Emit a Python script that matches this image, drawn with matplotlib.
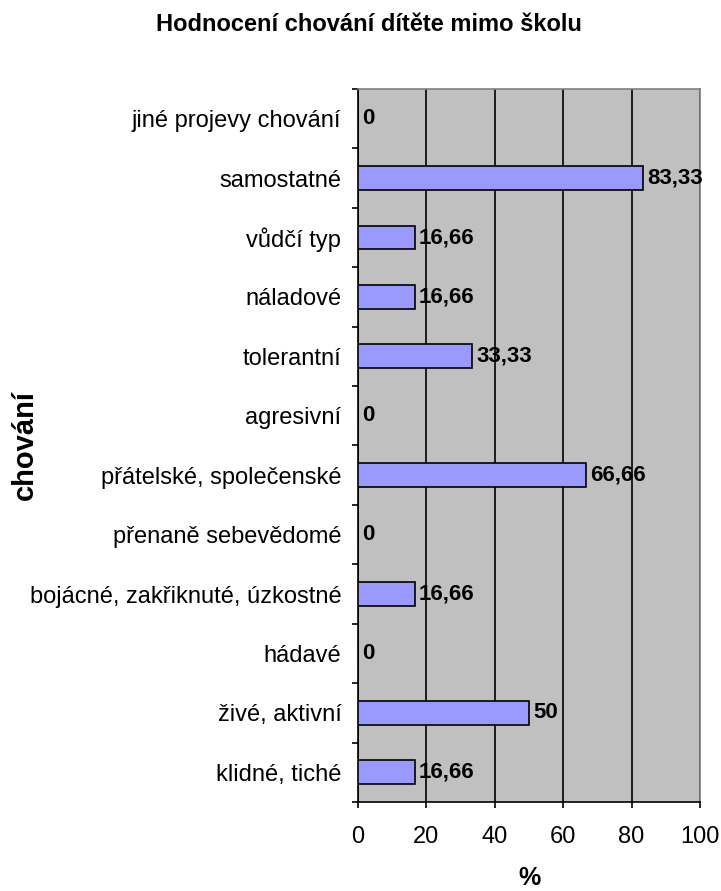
import numpy as np
import matplotlib.pyplot as plt

plt.rcParams['font.family'] = ['Liberation Sans', 'DejaVu Sans']

# categories listed bottom to top
categories = [
    "klidné, tiché",
    "živé, aktivní",
    "hádavé",
    "bojácné, zakřiknuté, úzkostné",
    "přenaně sebevědomé",
    "přátelské, společenské",
    "agresivní",
    "tolerantní",
    "náladové",
    "vůdčí typ",
    "samostatné",
    "jiné projevy chování",
]
values = [16.66, 50, 0, 16.66, 0, 66.66, 0, 33.33, 16.66, 16.66, 83.33, 0]
value_labels = ["16,66", "50", "0", "16,66", "0", "66,66", "0", "33,33",
                "16,66", "16,66", "83,33", "0"]

fig = plt.figure(figsize=(7.21, 8.91), dpi=100)
ax = fig.add_axes([0.4965, 0.0999, 0.4743, 0.8002])
ax.set_facecolor('#c0c0c0')

y = np.arange(len(categories))
ax.barh(y, values, height=0.4, color='#9999ff', edgecolor='black', linewidth=1.2, zorder=3)

for yi, v, lab in zip(y, values, value_labels):
    ax.text(v + 1.2, yi, lab, va='center', ha='left', fontsize=16,
            fontweight='bold', zorder=4)

ax.set_xlim(0, 100)
ax.set_ylim(-0.5, len(categories) - 0.5)
ax.set_xticks(np.arange(0, 101, 20))
ax.tick_params(axis='x', direction='out', length=4, width=1.2, labelsize=17, pad=13)

# category labels between the boundary ticks
ax.set_yticks(np.arange(len(categories) + 1) - 0.5)
ax.set_yticklabels([])
ax.set_yticks(y, minor=True)
ax.set_yticklabels(categories, minor=True, fontsize=17)
ax.tick_params(axis='y', which='major', direction='out', length=4, width=1.2)
ax.tick_params(axis='y', which='minor', length=0, pad=12)

ax.grid(axis='x', color='black', linewidth=1.2, zorder=1)
ax.set_axisbelow(True)

for side in ['top', 'right']:
    ax.spines[side].set_color('#808080')
    ax.spines[side].set_linewidth(1.2)
for side in ['left', 'bottom']:
    ax.spines[side].set_color('black')
    ax.spines[side].set_linewidth(1.2)

fig.text(0.5118, 0.972, "Hodnocení chování dítěte mimo školu", ha='center', va='center',
         fontsize=17, fontweight='bold')
fig.text(0.035, 0.5006, "chování", rotation=90, ha='center', va='center',
         fontsize=21, fontweight='bold')
fig.text(0.735, 0.0146, "%", ha='center', va='center', fontsize=18, fontweight='bold')

fig.savefig('out.png', dpi=100)
